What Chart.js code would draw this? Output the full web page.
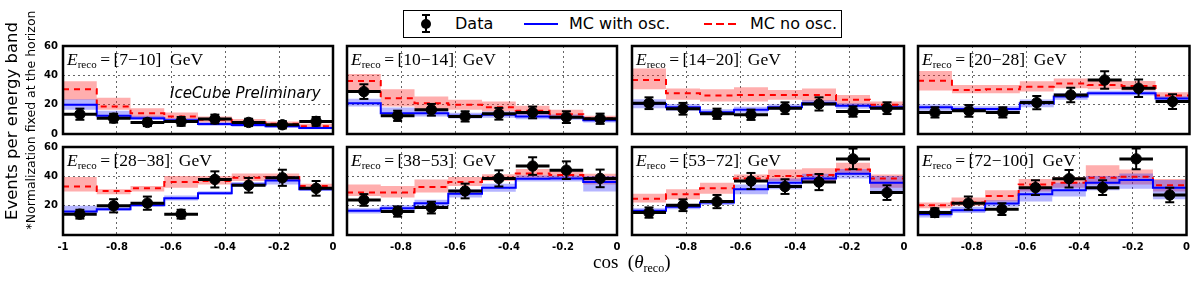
<!DOCTYPE html>
<html><head><meta charset="utf-8">
<script src="https://cdn.jsdelivr.net/npm/chart.js@4.4.1/dist/chart.umd.min.js"></script>
<style>
html,body{margin:0;padding:0;background:#fff;}
#wrap{position:relative;width:1196px;height:281px;overflow:hidden;background:#fff;}
#wrap canvas{position:absolute;left:0;top:0;}
.plbl{position:absolute;font-family:"Liberation Serif","DejaVu Serif",serif;font-size:17.5px;line-height:1;white-space:nowrap;color:#000;}
.plbl sub{font-size:11px;line-height:0;vertical-align:-3px;}
.lg{position:absolute;font-family:"DejaVu Sans",sans-serif;font-size:16px;line-height:26px;top:0;white-space:nowrap;color:#000;}
.ytitle{position:absolute;font-family:"DejaVu Sans",sans-serif;white-space:nowrap;transform:translate(-50%,-50%) rotate(-90deg);color:#000;line-height:1;}
</style></head><body>
<div id="wrap"></div>
<script>
// ---------- data ----------
const binEdges = [-1, -0.875, -0.75, -0.625, -0.5, -0.375, -0.25, -0.125, 0];
const energyBands = ['7\u221210', '10\u221214', '14\u221220', '20\u221228', '28\u221238', '38\u221253', '53\u221272', '72\u2212100'];
const xTickLabels = ['-1', '-0.8', '-0.6', '-0.4', '-0.2', '0'];
const yTickLabels = ['0', '20', '40', '60'];

const dataValues = [
  [13.5, 10.8, 7.9, 8.6, 10.2, 7.9, 6.3, 8.6],
  [28.9, 12.4, 16.5, 12.0, 13.8, 14.7, 11.5, 10.4],
  [21.0, 17.2, 13.8, 13.1, 17.6, 20.5, 15.3, 17.6],
  [14.7, 15.8, 14.7, 21.4, 26.6, 36.8, 31.2, 22.1],
  [14.2, 19.9, 21.7, 14.2, 37.9, 33.9, 39.0, 31.8],
  [23.9, 16.0, 18.7, 30.0, 38.6, 47.0, 44.2, 38.6],
  [15.3, 20.3, 22.8, 36.8, 33.0, 36.1, 51.9, 28.9],
  [15.3, 21.7, 17.6, 32.3, 38.4, 32.3, 51.9, 27.3]
];
const dataErrors = [
  [3.8, 3.0, 2.5, 3.0, 3.0, 2.5, 2.5, 3.0],
  [5.0, 3.5, 4.0, 3.5, 4.0, 4.0, 4.0, 3.5],
  [4.0, 4.0, 3.5, 3.5, 4.0, 4.5, 3.5, 4.0],
  [3.5, 4.0, 3.5, 4.5, 5.0, 6.0, 6.0, 5.0],
  [3.0, 4.5, 4.5, 3.0, 5.5, 5.0, 5.5, 5.0],
  [4.0, 3.5, 4.0, 5.0, 5.5, 6.0, 6.0, 6.0],
  [3.5, 4.0, 4.5, 5.5, 5.0, 5.5, 7.0, 5.0],
  [3.0, 4.5, 4.0, 5.0, 6.0, 5.0, 7.0, 5.0]
];
const mcOsc = [
  [19.9, 12.4, 10.8, 9.3, 6.8, 6.1, 5.2, 4.1],
  [21.0, 14.2, 14.2, 12.4, 13.1, 12.0, 11.5, 9.3],
  [20.5, 18.3, 14.9, 16.5, 18.3, 21.0, 19.2, 18.3],
  [18.3, 17.0, 17.0, 21.0, 25.5, 27.8, 27.8, 24.2],
  [16.0, 17.6, 20.3, 25.0, 28.4, 34.5, 37.2, 31.2],
  [16.5, 18.3, 21.7, 28.2, 32.3, 38.4, 38.6, 36.1],
  [16.5, 19.2, 22.1, 31.2, 35.7, 38.6, 41.8, 35.7],
  [14.2, 16.9, 21.4, 27.8, 30.5, 35.7, 37.5, 32.3]
];
const mcOscLow = [
  [16.5, 10.8, 9.5, 8.0, 5.6, 5.0, 4.3, 3.3],
  [18.7, 12.5, 12.0, 10.5, 11.0, 10.0, 9.7, 7.9],
  [17.6, 15.8, 13.0, 14.5, 16.5, 19.2, 17.2, 16.5],
  [15.8, 15.0, 15.0, 18.3, 23.3, 26.2, 26.2, 22.8],
  [14.5, 16.5, 19.5, 23.5, 27.5, 33.0, 34.5, 30.0],
  [14.7, 16.5, 19.5, 25.5, 29.5, 36.5, 36.5, 29.6],
  [15.0, 17.6, 20.5, 27.8, 31.2, 35.7, 38.6, 29.6],
  [12.0, 15.0, 19.2, 22.8, 26.2, 30.5, 31.6, 24.4]
];
const mcOscHigh = [
  [23.7, 15.8, 12.5, 10.7, 8.0, 7.2, 6.2, 5.0],
  [24.0, 18.0, 16.5, 14.5, 15.3, 14.0, 13.3, 10.8],
  [23.7, 20.5, 16.9, 18.5, 20.3, 23.0, 21.0, 20.0],
  [20.3, 19.0, 19.0, 23.5, 27.8, 29.5, 29.5, 25.8],
  [19.9, 18.9, 21.5, 27.0, 29.8, 36.2, 40.0, 32.5],
  [18.3, 20.3, 24.0, 31.0, 35.0, 40.5, 40.5, 40.2],
  [18.3, 20.8, 23.9, 34.5, 38.6, 41.8, 45.0, 40.2],
  [16.5, 19.2, 23.7, 32.3, 35.7, 40.2, 42.0, 37.5]
];
const mcNoOsc = [
  [30.5, 18.7, 14.2, 12.0, 9.7, 7.9, 7.0, 5.2],
  [36.1, 24.4, 21.0, 19.9, 18.3, 15.8, 13.5, 10.8],
  [36.8, 27.8, 26.2, 26.6, 26.6, 26.6, 23.3, 19.9],
  [36.3, 30.0, 30.5, 32.3, 34.5, 33.4, 32.7, 26.2],
  [33.0, 30.0, 31.8, 36.1, 36.8, 39.0, 39.5, 33.4],
  [28.9, 28.9, 32.7, 36.1, 39.0, 42.0, 40.9, 38.4],
  [24.8, 27.8, 31.8, 38.6, 40.2, 40.9, 44.7, 38.6],
  [20.3, 22.1, 26.6, 34.5, 35.7, 39.0, 39.7, 33.9]
];
const mcNoOscLow = [
  [23.3, 16.5, 11.5, 10.2, 7.9, 6.3, 5.2, 4.1],
  [30.0, 18.7, 15.8, 16.5, 15.3, 13.1, 11.5, 9.7],
  [30.5, 23.3, 22.1, 22.1, 23.3, 22.1, 19.9, 17.6],
  [29.6, 27.8, 27.8, 28.9, 31.2, 30.5, 29.6, 23.9],
  [29.6, 27.8, 29.6, 32.3, 34.5, 36.8, 36.8, 31.8],
  [26.6, 25.5, 28.9, 33.4, 36.8, 39.0, 38.4, 34.5],
  [22.1, 24.4, 28.2, 36.1, 36.8, 36.8, 41.3, 32.3],
  [18.3, 19.9, 22.8, 29.6, 32.3, 34.5, 34.5, 29.6]
];
const mcNoOscHigh = [
  [36.0, 24.8, 17.6, 14.7, 12.0, 10.2, 8.6, 7.0],
  [40.9, 30.5, 25.5, 23.3, 22.1, 19.2, 16.5, 12.4],
  [44.7, 31.0, 30.5, 31.8, 30.0, 31.0, 26.6, 22.1],
  [43.0, 33.4, 33.4, 36.0, 37.9, 36.8, 36.1, 28.4],
  [39.5, 31.2, 33.4, 40.2, 40.2, 42.0, 42.0, 35.0],
  [34.5, 33.4, 37.9, 39.5, 41.5, 45.0, 43.5, 41.8],
  [28.2, 31.2, 35.7, 41.3, 44.7, 45.5, 49.2, 41.3],
  [22.1, 25.5, 30.5, 38.1, 39.5, 47.6, 44.7, 38.1]
];

// ---------- layout ----------
const W = 1196, H = 281;
const frameLeft = [63, 347, 632, 918];
const frameWidth = [270, 270, 272, 272];
const frameTop = [46, 147];
const frameHeight = 88;
const Y_AXIS_W = 30, X_AXIS_H = 22;

const wrap = document.getElementById('wrap');

function stepPts(vals) {
  const pts = vals.map((v, i) => ({x: binEdges[i], y: v}));
  pts.push({x: binEdges[binEdges.length - 1], y: vals[vals.length - 1]});
  return pts;
}
const centers = binEdges.slice(0, -1).map((e, i) => (e + binEdges[i + 1]) / 2);

const framePlugin = {
  id: 'frame',
  afterDraw(chart) {
    const {ctx, chartArea: a} = chart;
    ctx.save();
    ctx.strokeStyle = '#000';
    ctx.lineWidth = 2.5;
    ctx.strokeRect(a.left, a.top, a.right - a.left, a.bottom - a.top);
    ctx.restore();
  }
};

for (let p = 0; p < 8; p++) {
  const row = Math.floor(p / 4), col = p % 4;
  const L = frameLeft[col], Wd = frameWidth[col], T = frameTop[row];
  const yw = col === 0 ? Y_AXIS_W : 0;
  const xh = row === 1 ? X_AXIS_H : 0;

  const cv = document.createElement('canvas');
  cv.width = W; cv.height = H;
  cv.style.width = W + 'px'; cv.style.height = H + 'px';
  wrap.appendChild(cv);

  const markers = centers.map((c, i) => ({x: c, y: dataValues[p][i]}));
  const xbars = [];
  centers.forEach((c, i) => {
    xbars.push({x: binEdges[i], y: dataValues[p][i]});
    xbars.push({x: binEdges[i + 1], y: dataValues[p][i]});
    xbars.push({x: c, y: null});
  });
  const ebars = [];
  centers.forEach((c, i) => {
    ebars.push({x: c, y: dataValues[p][i] - dataErrors[p][i]});
    ebars.push({x: c, y: dataValues[p][i] + dataErrors[p][i]});
    ebars.push({x: c, y: null});
  });

  const base = {pointRadius: 0, pointHoverRadius: 0, spanGaps: false};
  new Chart(cv, {
    type: 'line',
    data: {
      datasets: [
        {...base, data: markers, showLine: false, pointRadius: 5.2, pointStyle: 'circle',
          pointBackgroundColor: '#000', pointBorderColor: '#000', borderColor: '#000', fill: false},
        {...base, data: xbars, borderColor: '#000', borderWidth: 3, fill: false},
        {...base, data: ebars, borderColor: '#000', borderWidth: 2, fill: false,
          pointRadius: 4.5, pointStyle: 'line', pointBorderColor: '#000', pointBorderWidth: 2},
        {...base, data: stepPts(mcOsc[p]), stepped: true, borderColor: '#0000ff', borderWidth: 2, fill: false},
        {...base, data: stepPts(mcNoOsc[p]), stepped: true, borderColor: '#ff0000', borderWidth: 2,
          borderDash: [6, 5], fill: false},
        {...base, data: stepPts(mcOscHigh[p]), stepped: true, borderColor: 'transparent', borderWidth: 1,
          fill: '+1', backgroundColor: 'rgba(30,30,255,0.33)'},
        {...base, data: stepPts(mcOscLow[p]), stepped: true, borderColor: 'transparent', borderWidth: 1, fill: false},
        {...base, data: stepPts(mcNoOscHigh[p]), stepped: true, borderColor: 'transparent', borderWidth: 1,
          fill: '+1', backgroundColor: 'rgba(255,30,30,0.36)'},
        {...base, data: stepPts(mcNoOscLow[p]), stepped: true, borderColor: 'transparent', borderWidth: 1, fill: false}
      ]
    },
    options: {
      responsive: false,
      animation: false,
      events: [],
      devicePixelRatio: 1,
      layout: {padding: {left: L - yw, right: W - L - Wd, top: T, bottom: H - T - frameHeight - xh}},
      plugins: {legend: {display: false}, tooltip: {enabled: false}},
      scales: {
        x: {
          type: 'linear', min: -1, max: 0,
          afterFit: s => { s.height = xh; },
          border: {display: false, dash: [2, 3]},
          grid: {drawTicks: false, lineWidth: 1,
            color: c => (c.tick && (c.index === 0 || c.index === xTickLabels.length - 1)) ? 'rgba(0,0,0,0)' : '#666'},
          ticks: {display: row === 1, stepSize: 0.2, padding: 6, maxRotation: 0, autoSkip: false,
            color: '#000', font: {family: 'DejaVu Sans', size: 10, weight: 'bold'},
            callback: (v, i) => (col > 0 && i === 0) ? '' : xTickLabels[i]}
        },
        y: {
          type: 'linear', min: 0, max: 60,
          afterFit: s => { s.width = yw; },
          border: {display: false, dash: [2, 3]},
          grid: {drawTicks: false, lineWidth: 1,
            color: c => (c.tick && (c.index === 0 || c.index === yTickLabels.length - 1)) ? 'rgba(0,0,0,0)' : '#666'},
          ticks: {display: col === 0, stepSize: 20, padding: 5,
            color: '#000', font: {family: 'DejaVu Sans', size: 10, weight: 'bold'},
            callback: (v, i) => (row === 1 && i === 0) ? '' : yTickLabels[i]}
        }
      }
    },
    plugins: [framePlugin]
  });

  const lbl = document.createElement('div');
  lbl.className = 'plbl';
  lbl.style.left = (L + 4) + 'px';
  lbl.style.top = (T + 5) + 'px';
  lbl.innerHTML = '<i>E</i><sub>reco</sub>\u2009=\u2009[' + energyBands[p] + ']\u2002GeV';
  wrap.appendChild(lbl);
}

// IceCube Preliminary
const ice = document.createElement('div');
ice.style.cssText = 'position:absolute;left:170px;top:86px;font-family:"DejaVu Sans",sans-serif;font-style:italic;font-size:15px;line-height:1;white-space:nowrap;color:#000;';
ice.textContent = 'IceCube Preliminary';
wrap.appendChild(ice);

// axis titles
const xt = document.createElement('div');
xt.style.cssText = 'position:absolute;left:593px;top:252px;font-family:"Liberation Serif","DejaVu Serif",serif;font-size:19px;line-height:1;white-space:nowrap;color:#000;';
xt.innerHTML = 'cos\u2002(<i>\u03b8</i><sub style="font-size:12px;line-height:0;vertical-align:-4px;">reco</sub>)';
wrap.appendChild(xt);

const yt1 = document.createElement('div');
yt1.className = 'ytitle';
yt1.style.cssText += 'left:12px;top:121px;font-size:16.5px;';
yt1.textContent = 'Events per energy band';
wrap.appendChild(yt1);

const yt2 = document.createElement('div');
yt2.className = 'ytitle';
yt2.style.cssText += 'left:31px;top:120px;font-size:12.5px;';
yt2.textContent = '*Normalization fixed at the horizon';
wrap.appendChild(yt2);

// legend
const lg = document.createElement('div');
lg.style.cssText = 'position:absolute;left:403px;top:10px;width:437px;height:26px;border:1px solid #000;background:#fff;';
lg.innerHTML =
  '<div style="position:absolute;left:21px;top:3px;width:2px;height:19px;background:#000"></div>' +
  '<div style="position:absolute;left:18px;top:3px;width:8px;height:2px;background:#000"></div>' +
  '<div style="position:absolute;left:18px;top:20px;width:8px;height:2px;background:#000"></div>' +
  '<div style="position:absolute;left:17px;top:7.5px;width:10px;height:10px;border-radius:50%;background:#000"></div>' +
  '<div class="lg" style="left:51px">Data</div>' +
  '<div style="position:absolute;left:120px;top:12px;width:34px;height:2px;background:#0000ff"></div>' +
  '<div class="lg" style="left:165px">MC with osc.</div>' +
  '<div style="position:absolute;left:300px;top:12px;width:33px;height:2px;background:repeating-linear-gradient(to right,#ff0000 0 8px,transparent 8px 12px)"></div>' +
  '<div class="lg" style="left:346px">MC no osc.</div>';
wrap.appendChild(lg);
</script>
</body></html>
